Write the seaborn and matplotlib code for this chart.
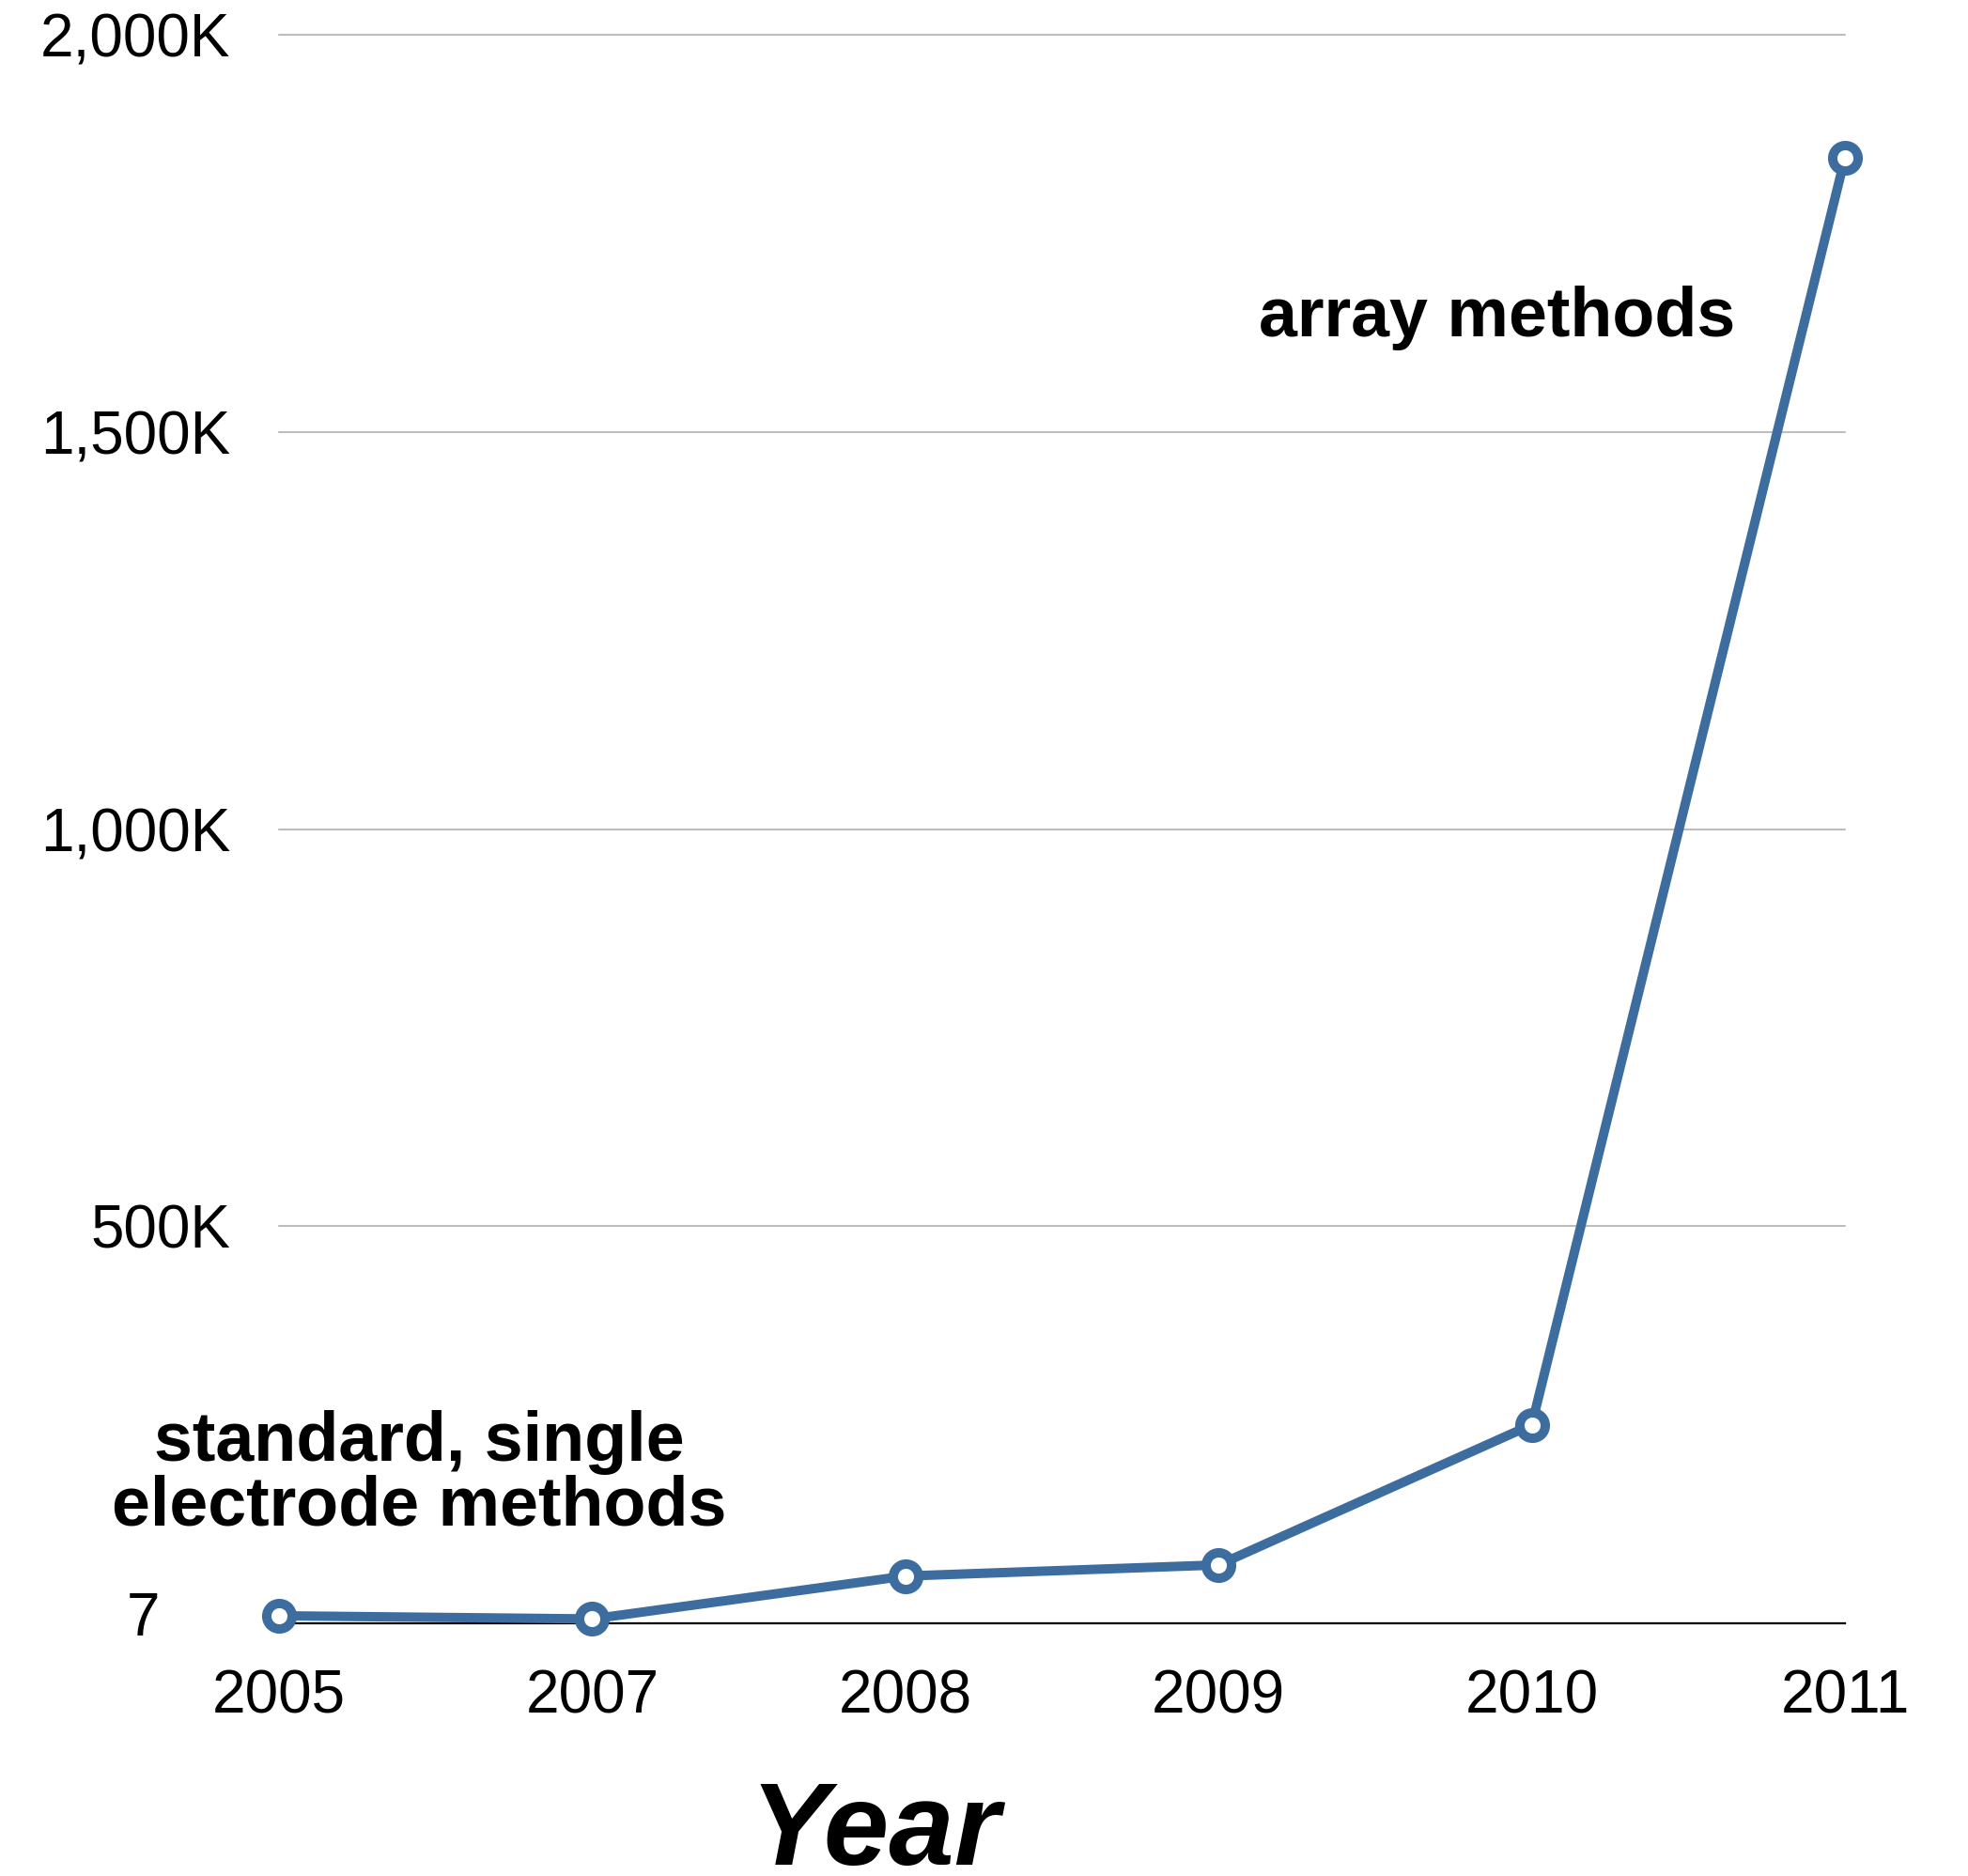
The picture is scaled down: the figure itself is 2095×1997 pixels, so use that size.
import matplotlib
matplotlib.use("Agg")
import matplotlib.pyplot as plt
from matplotlib.ticker import FuncFormatter
import seaborn as sns
import pandas as pd

# Data
years = ["2005", "2007", "2008", "2009", "2010", "2011"]
recorded = [9500, 5500, 59500, 73500, 250000, 1845000]
y_ticks = [500000, 1000000, 1500000, 2000000]
y_min, y_max = 7, 2000000

LINE_BLUE = "#3d6c9e"

sns.set_theme(style="white")
plt.rcParams["font.family"] = ["Liberation Sans", "DejaVu Sans"]

df = pd.DataFrame({"pos": range(len(years)), "value": recorded})

W, H = 2095, 1997
fig = plt.figure(figsize=(W / 100, H / 100), dpi=100)
ax = fig.add_axes([297 / W, 1 - 1728 / H, 1667 / W, 1691 / H])

sns.lineplot(
    data=df, x="pos", y="value", ax=ax,
    color=LINE_BLUE, linewidth=7.2,
    marker="o", markersize=19.5, markeredgewidth=7.2,
    markerfacecolor="white", markeredgecolor=LINE_BLUE,
    clip_on=False, zorder=5,
)

ax.set_xlim(0, len(years) - 1)
ax.set_ylim(y_min, y_max)

ax.set_xticks(range(len(years)))
ax.set_xticklabels(years)
ax.set_yticks(y_ticks)
ax.yaxis.set_major_formatter(FuncFormatter(lambda v, _: f"{v / 1000:,.0f}K"))

ax.tick_params(axis="both", length=0, labelsize=46, colors="black")
ax.tick_params(axis="y", pad=37)
ax.tick_params(axis="x", pad=35)

ax.grid(axis="y", color="#bdbdbd", linewidth=1.5)
ax.grid(axis="x", visible=False)
for gl in ax.get_ygridlines():
    gl.set_clip_on(False)

for side in ("top", "right", "left"):
    ax.spines[side].set_visible(False)
ax.spines["bottom"].set_color("black")
ax.spines["bottom"].set_linewidth(1.6)

# Bottom value marker for the y axis
ax.text(-0.0762, 0.0062, "7", transform=ax.transAxes, ha="right",
        va="center_baseline", fontsize=46, color="black")

# Axis title
ax.set_xlabel("Year", fontsize=90, fontweight="bold", fontstyle="italic",
              color="black")
ax.xaxis.label.set_va("baseline")
ax.xaxis.set_label_coords(0.3805, (1728 - 1985) / 1691)

# Annotations
ax.text(3.128, 1620000, "array methods", ha="left", va="baseline",
        fontsize=53, fontweight="bold", color="black")
ax.text(0.447, 205000, "standard, single", ha="center", va="baseline",
        fontsize=53, fontweight="bold", color="black")
ax.text(0.447, 124000, "electrode methods", ha="center", va="baseline",
        fontsize=53, fontweight="bold", color="black")

ax.set_ylabel("")
fig.savefig("out.png", dpi=100, facecolor="white")
